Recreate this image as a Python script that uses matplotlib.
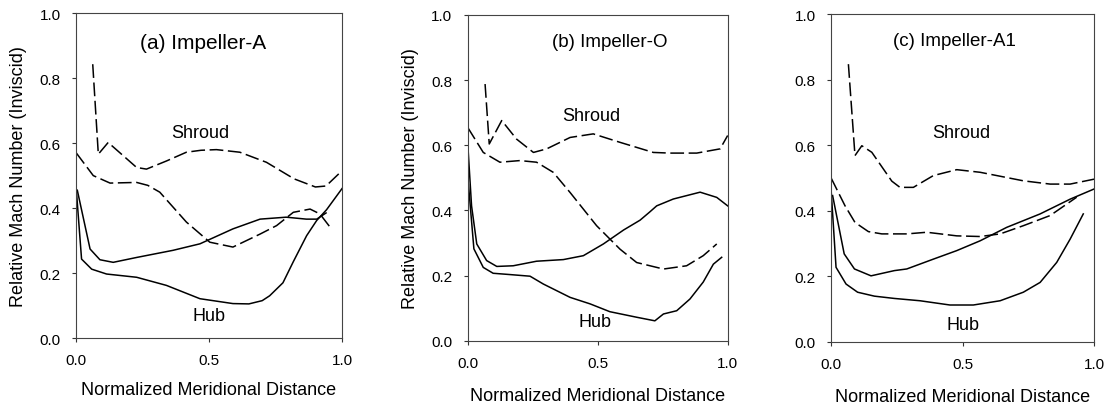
import numpy as np
import matplotlib
matplotlib.use('Agg')
import matplotlib.pyplot as plt

plt.rcParams['font.family'] = ['Liberation Sans', 'DejaVu Sans']

# values, one pair of lists per curve
# (a) Impeller-A
a_shroud_ss_x = [0.063, 0.084, 0.121, 0.178, 0.228, 0.265, 0.34, 0.415, 0.47, 0.528, 0.616, 0.716, 0.82, 0.9, 0.94, 1.0]
a_shroud_ss_y = [0.843, 0.566, 0.602, 0.561, 0.525, 0.52, 0.545, 0.572, 0.578, 0.58, 0.572, 0.541, 0.49, 0.465, 0.468, 0.515]
a_shroud_ps_x = [0.0, 0.065, 0.128, 0.228, 0.27, 0.315, 0.415, 0.503, 0.59, 0.692, 0.754, 0.817, 0.88, 0.917, 0.961]
a_shroud_ps_y = [0.571, 0.5, 0.477, 0.479, 0.47, 0.449, 0.357, 0.295, 0.28, 0.32, 0.346, 0.387, 0.397, 0.382, 0.335]
a_hub_ss_x = [0.005, 0.053, 0.09, 0.14, 0.228, 0.365, 0.466, 0.59, 0.692, 0.79, 0.866, 0.905, 0.94]
a_hub_ss_y = [0.455, 0.274, 0.241, 0.233, 0.248, 0.27, 0.29, 0.336, 0.366, 0.372, 0.366, 0.366, 0.385]
a_hub_ps_x = [0.0, 0.021, 0.059, 0.115, 0.228, 0.34, 0.466, 0.59, 0.65, 0.7, 0.728, 0.778, 0.817, 0.867, 0.905, 0.942, 1.0]
a_hub_ps_y = [0.47, 0.243, 0.212, 0.197, 0.187, 0.162, 0.121, 0.106, 0.105, 0.115, 0.13, 0.17, 0.235, 0.315, 0.362, 0.395, 0.46]

# (b) Impeller-O
b_shroud_ss_x = [0.067, 0.083, 0.131, 0.188, 0.253, 0.304, 0.394, 0.483, 0.586, 0.714, 0.778, 0.881, 0.971, 1.0]
b_shroud_ss_y = [0.788, 0.604, 0.676, 0.619, 0.578, 0.589, 0.624, 0.635, 0.609, 0.578, 0.576, 0.576, 0.589, 0.63]
b_shroud_ps_x = [0.0, 0.06, 0.124, 0.201, 0.265, 0.329, 0.394, 0.496, 0.586, 0.65, 0.753, 0.842, 0.906, 0.958]
b_shroud_ps_y = [0.655, 0.578, 0.548, 0.553, 0.548, 0.517, 0.455, 0.353, 0.281, 0.24, 0.22, 0.23, 0.261, 0.297]
b_hub_ss_x = [0.0, 0.015, 0.035, 0.073, 0.112, 0.175, 0.265, 0.368, 0.445, 0.522, 0.6, 0.663, 0.7, 0.727, 0.791, 0.894, 0.958, 1.0]
b_hub_ss_y = [0.609, 0.414, 0.297, 0.246, 0.228, 0.23, 0.244, 0.249, 0.261, 0.297, 0.34, 0.37, 0.395, 0.414, 0.435, 0.456, 0.44, 0.414]
b_hub_ps_x = [0.003, 0.024, 0.06, 0.098, 0.163, 0.24, 0.291, 0.394, 0.471, 0.547, 0.65, 0.72, 0.753, 0.804, 0.855, 0.906, 0.945, 0.977]
b_hub_ps_y = [0.48, 0.282, 0.225, 0.207, 0.203, 0.198, 0.174, 0.133, 0.113, 0.089, 0.072, 0.061, 0.082, 0.092, 0.128, 0.18, 0.235, 0.256]

# (c) Impeller-A1
c_shroud_ss_x = [0.066, 0.091, 0.117, 0.155, 0.231, 0.262, 0.313, 0.389, 0.478, 0.567, 0.731, 0.833, 0.909, 1.0]
c_shroud_ss_y = [0.847, 0.568, 0.598, 0.578, 0.49, 0.471, 0.471, 0.507, 0.525, 0.517, 0.491, 0.481, 0.481, 0.496]
c_shroud_ps_x = [0.0, 0.053, 0.091, 0.142, 0.193, 0.288, 0.364, 0.478, 0.567, 0.643, 0.731, 0.833, 0.934]
c_shroud_ps_y = [0.5, 0.415, 0.364, 0.336, 0.329, 0.329, 0.334, 0.323, 0.321, 0.329, 0.354, 0.385, 0.441]
c_hub_ss_x = [0.006, 0.05, 0.089, 0.152, 0.241, 0.288, 0.389, 0.478, 0.567, 0.668, 0.795, 0.909, 1.0]
c_hub_ss_y = [0.446, 0.268, 0.222, 0.201, 0.217, 0.222, 0.252, 0.278, 0.308, 0.349, 0.39, 0.435, 0.466]
c_hub_ps_x = [0.0, 0.019, 0.057, 0.101, 0.165, 0.241, 0.338, 0.452, 0.541, 0.643, 0.731, 0.795, 0.858, 0.909, 0.959]
c_hub_ps_y = [0.466, 0.227, 0.176, 0.151, 0.139, 0.132, 0.125, 0.112, 0.112, 0.125, 0.151, 0.181, 0.242, 0.313, 0.39]

titles = ['(a) Impeller-A', '(b) Impeller-O', '(c) Impeller-A1']
x_ticks = [0.0, 0.5, 1.0]
y_ticks = [0.0, 0.2, 0.4, 0.6, 0.8, 1.0]
xlabel = 'Normalized Meridional Distance'
ylabel = 'Relative Mach Number (Inviscid)'

curves = [
    [(a_shroud_ss_x, a_shroud_ss_y, '--'), (a_shroud_ps_x, a_shroud_ps_y, '--'),
     (a_hub_ss_x, a_hub_ss_y, '-'), (a_hub_ps_x, a_hub_ps_y, '-')],
    [(b_shroud_ss_x, b_shroud_ss_y, '--'), (b_shroud_ps_x, b_shroud_ps_y, '--'),
     (b_hub_ss_x, b_hub_ss_y, '-'), (b_hub_ps_x, b_hub_ps_y, '-')],
    [(c_shroud_ss_x, c_shroud_ss_y, '--'), (c_shroud_ps_x, c_shroud_ps_y, '--'),
     (c_hub_ss_x, c_hub_ss_y, '-'), (c_hub_ps_x, c_hub_ps_y, '-')],
]

# axes boxes [left, bottom, width, height] and label spots
boxes = [[0.0682, 0.165, 0.2388, 0.800],
         [0.4198, 0.1584, 0.2334, 0.8022],
         [0.746, 0.1559, 0.2361, 0.8071]]
title_pos = [(0.477, 0.91), (0.547, 0.92), (0.471, 0.918)]
title_size = [15, 13.5, 13.5]
shroud_pos = [(0.466, 0.634), (0.477, 0.69), (0.497, 0.639)]
hub_pos = [(0.5, 0.068), (0.49, 0.058), (0.5, 0.054)]
xlabel_pad = [10, 12.5, 12.5]

fig = plt.figure(figsize=(11.14, 4.06), dpi=100)

for i in range(3):
    ax = fig.add_axes(boxes[i])
    for xs, ys, style in curves[i]:
        line, = ax.plot(xs, ys, color='black', lw=1.1, linestyle=style)
        if style == '--':
            line.set_dashes((9, 3))
    ax.set_xlim(0, 1)
    ax.set_ylim(0, 1)
    ax.set_xticks(x_ticks)
    ax.set_xticklabels(['%.1f' % t for t in x_ticks])
    ax.set_yticks(y_ticks)
    ax.set_yticklabels(['%.1f' % t for t in y_ticks])
    ax.tick_params(direction='out', length=3, width=0.8, labelsize=11, pad=8, color='#333333')
    for s in ax.spines.values():
        s.set_linewidth(0.8)
        s.set_color('#444444')
    ax.set_xlabel(xlabel, fontsize=13, labelpad=xlabel_pad[i])
    if i < 2:
        ax.set_ylabel(ylabel, fontsize=13, labelpad=9)
    ax.text(*title_pos[i], titles[i], fontsize=title_size[i], ha='center', va='center')
    ax.text(*shroud_pos[i], 'Shroud', fontsize=13, ha='center', va='center')
    ax.text(*hub_pos[i], 'Hub', fontsize=13, ha='center', va='center')

fig.savefig('out.png', dpi=100)
